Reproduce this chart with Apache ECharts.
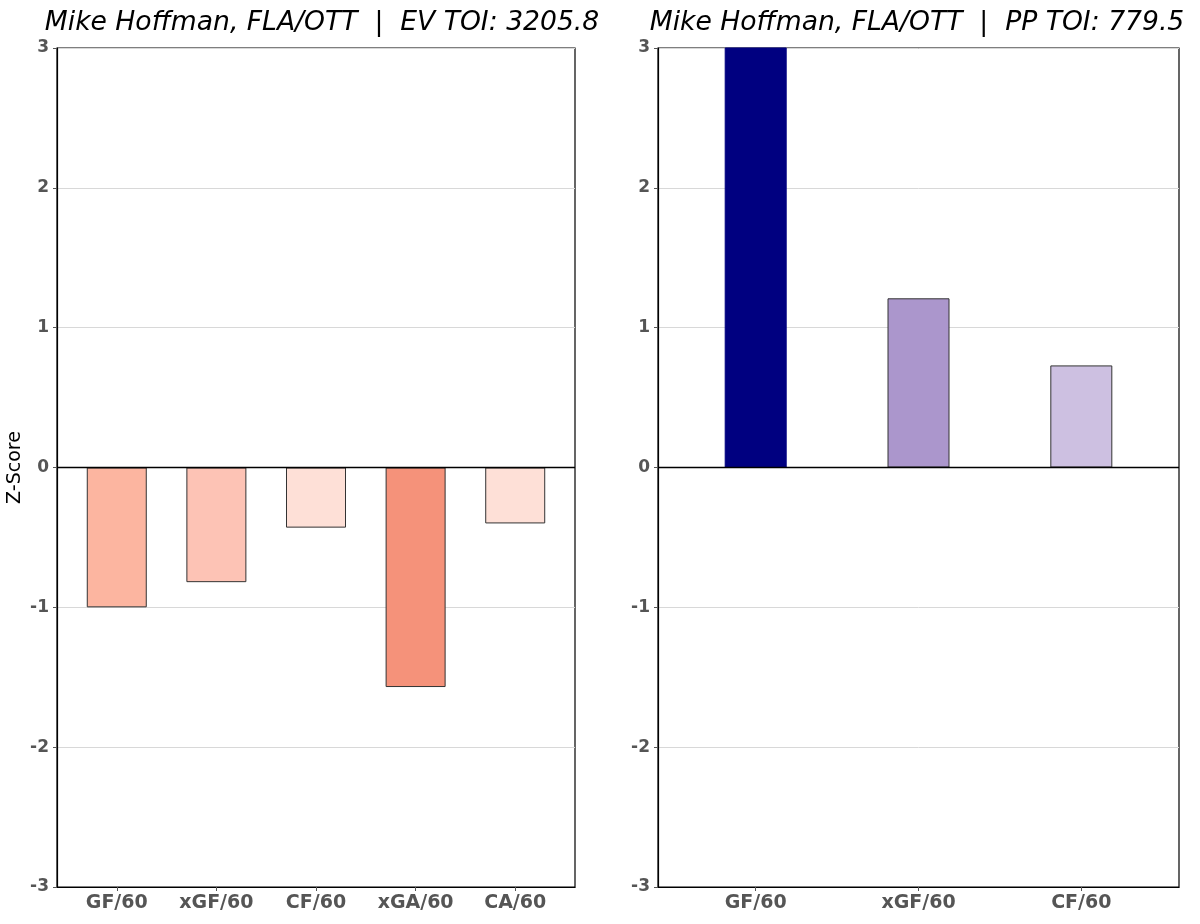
<!DOCTYPE html>
<html>
<head>
<meta charset="utf-8">
<script src="https://cdn.jsdelivr.net/npm/echarts@6/dist/echarts.min.js"></script>
<style>
html,body{margin:0;padding:0;background:#fff;}
#chart{width:1200px;height:924px;}
</style>
</head>
<body>
<div id="chart"></div>
<script>
// ---- data ----
const evTitle = 'Mike Hoffman, FLA/OTT  |  EV TOI: 3205.8';
const ppTitle = 'Mike Hoffman, FLA/OTT  |  PP TOI: 779.5';
const evCategories = ['GF/60', 'xGF/60', 'CF/60', 'xGA/60', 'CA/60'];
const evValues = [-1.0, -0.82, -0.43, -1.57, -0.40];
const evColors = ['#fcb5a0', '#fdc3b5', '#fee0d7', '#f5927a', '#fee0d7'];
const ppCategories = ['GF/60', 'xGF/60', 'CF/60'];
const ppValues = [3.5, 1.21, 0.73];
const ppColors = ['#000080', '#ab96cc', '#cdc0e1'];
const yTicks = [-3, -2, -1, 0, 1, 2, 3];

const FONT = 'DejaVu Sans';

function barData(vals, cols, firstBorder) {
  return vals.map((v, i) => ({
    value: [i, v],
    itemStyle: { color: cols[i], borderColor: (i === 0 && firstBorder) ? firstBorder : '#333', borderWidth: 1 }
  }));
}

function xAxisFor(cats, gridIndex) {
  const idx = cats.map((c, i) => i);
  return {
    type: 'value', gridIndex: gridIndex,
    min: -0.6, max: cats.length - 0.4,
    splitLine: { show: false },
    axisLine: { show: true, onZero: false, lineStyle: { color: '#000', width: 1.2 } },
    axisTick: { show: true, length: 4, lineStyle: { color: '#555' }, customValues: idx },
    axisLabel: {
      customValues: idx,
      formatter: v => cats[Math.round(v)] || '',
      fontFamily: FONT, fontWeight: 'bold', fontSize: 19, color: '#555', margin: 7
    }
  };
}

function yAxisFor(gridIndex, withName) {
  const ax = {
    type: 'value', gridIndex: gridIndex,
    min: yTicks[0], max: yTicks[yTicks.length - 1], interval: 1,
    axisLine: { show: true, onZero: false, lineStyle: { color: '#000', width: 1.2 } },
    axisTick: { show: true, length: 4, lineStyle: { color: '#555' } },
    axisLabel: { fontFamily: FONT, fontWeight: 'bold', fontSize: 17, color: '#555', margin: 8 },
    splitLine: { show: true, lineStyle: { color: '#d8d8d8', width: 1 } }
  };
  if (withName) {
    ax.name = 'Z-Score';
    ax.nameLocation = 'middle';
    ax.nameRotate = 90;
    ax.nameGap = 32;
    ax.nameTextStyle = { fontFamily: FONT, fontSize: 19, color: '#000' };
  }
  return ax;
}

const zeroLine = {
  symbol: 'none', silent: true, label: { show: false },
  lineStyle: { color: '#000', width: 1.3, type: 'solid' },
  data: [{ yAxis: 0 }]
};

const titleStyle = { fontFamily: FONT, fontStyle: 'italic', fontWeight: 'normal', fontSize: 26.6, color: '#000' };

const chart = echarts.init(document.getElementById('chart'), null, { renderer: 'canvas' });
chart.setOption({
  animation: false,
  backgroundColor: '#fff',
  title: [
    { text: evTitle, left: 317, textAlign: 'center', top: 5, textStyle: titleStyle },
    { text: ppTitle, left: 912, textAlign: 'center', top: 5, textStyle: titleStyle }
  ],
  grid: [
    { left: 57, top: 48, width: 518, height: 839, show: true, borderColor: '#000', borderWidth: 1.2, backgroundColor: 'transparent' },
    { left: 658, top: 48, width: 521, height: 839, show: true, borderColor: '#000', borderWidth: 1.2, backgroundColor: 'transparent' }
  ],
  xAxis: [xAxisFor(evCategories, 0), xAxisFor(ppCategories, 1)],
  yAxis: [yAxisFor(0, true), yAxisFor(1, false)],
  series: [
    { type: 'bar', xAxisIndex: 0, yAxisIndex: 0, barWidth: 60, clip: true,
      data: barData(evValues, evColors, null), markLine: zeroLine },
    { type: 'bar', xAxisIndex: 1, yAxisIndex: 1, barWidth: 62, clip: true,
      data: barData(ppValues, ppColors, '#000080'), markLine: zeroLine }
  ]
});
</script>
</body>
</html>
